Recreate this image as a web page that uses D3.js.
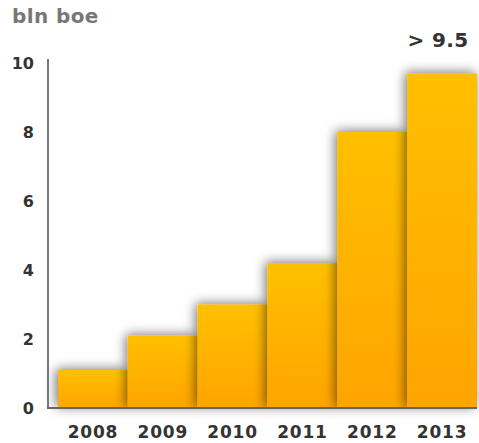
<!DOCTYPE html>
<html>
<head>
<meta charset="utf-8">
<script src="https://cdn.jsdelivr.net/npm/d3@7"></script>
<style>
  html, body { margin: 0; padding: 0; background: #fff; }
  svg { display: block; }
  text { font-family: "DejaVu Sans", Verdana, sans-serif; font-weight: bold; }
</style>
</head>
<body>
<div id="chart"></div>
<script>
// Reserves by year, billion barrels of oil equivalent
const years = ["2008", "2009", "2010", "2011", "2012", "2013"];
const reserves = [1.1, 2.1, 3.0, 4.2, 8.0, 9.7];
const yTicks = [0, 2, 4, 6, 8, 10];
const unitLabel = "bln boe";
const topNote = "> 9.5";

const width = 479, height = 443;
const svg = d3.select("#chart").append("svg")
  .attr("width", width).attr("height", height);

const x = d3.scaleBand().domain(years).range([58, 477]).padding(0);
const y = d3.scaleLinear().domain([0, 10]).range([408, 63]);

const defs = svg.append("defs");
const grad = defs.append("linearGradient")
  .attr("id", "barFill").attr("x1", 0).attr("y1", 0).attr("x2", 0).attr("y2", 1);
grad.append("stop").attr("offset", "0%").attr("stop-color", "#ffc000");
grad.append("stop").attr("offset", "100%").attr("stop-color", "#ffa400");

const shadow = defs.append("filter").attr("id", "barShadow")
  .attr("x", "-40%").attr("y", "-40%").attr("width", "180%").attr("height", "180%");
shadow.append("feDropShadow")
  .attr("dx", -2).attr("dy", -1).attr("stdDeviation", 6)
  .attr("flood-color", "#000").attr("flood-opacity", 0.55);

// bars
svg.append("g").selectAll("rect")
  .data(years.map((yr, i) => ({ yr, v: reserves[i] })))
  .join("rect")
  .attr("x", d => x(d.yr))
  .attr("y", d => y(d.v))
  .attr("width", x.bandwidth())
  .attr("height", d => y(0) - y(d.v))
  .attr("fill", "url(#barFill)")
  .attr("filter", "url(#barShadow)");

// y axis
const yAxis = svg.append("g")
  .attr("transform", "translate(48,0)")
  .call(d3.axisLeft(y).tickValues(yTicks).tickSize(0).tickPadding(14));
yAxis.select(".domain").remove();
yAxis.selectAll("text")
  .attr("fill", "#333").style("font-size", "16px").style("font-family", "DejaVu Sans").style("font-weight", "bold");
svg.append("line")
  .attr("x1", 48).attr("x2", 48).attr("y1", y(10) - 4).attr("y2", y(0))
  .attr("stroke", "#777").attr("stroke-width", 2);

// x axis
const xAxis = svg.append("g")
  .attr("transform", `translate(0,${y(0)})`)
  .call(d3.axisBottom(x).tickSize(0).tickPadding(18));
xAxis.select(".domain").remove();
xAxis.selectAll("text")
  .attr("fill", "#333").style("font-size", "17px").style("letter-spacing", "0.8px")
  .style("font-family", "DejaVu Sans").style("font-weight", "bold");
svg.append("line")
  .attr("x1", 47).attr("x2", 477).attr("y1", y(0)).attr("y2", y(0))
  .attr("stroke", "#666").attr("stroke-width", 2);

// unit title
svg.append("text")
  .attr("x", 12).attr("y", 23)
  .attr("fill", "#777").style("font-size", "20px").style("letter-spacing", "0.4px")
  .text(unitLabel);

// note above the last bar
svg.append("text")
  .attr("x", x(years[years.length - 1]) + x.bandwidth() / 2 - 4)
  .attr("y", 47)
  .attr("text-anchor", "middle")
  .attr("fill", "#333").style("font-size", "20px").style("letter-spacing", "0.4px")
  .text(topNote);
</script>
</body>
</html>
